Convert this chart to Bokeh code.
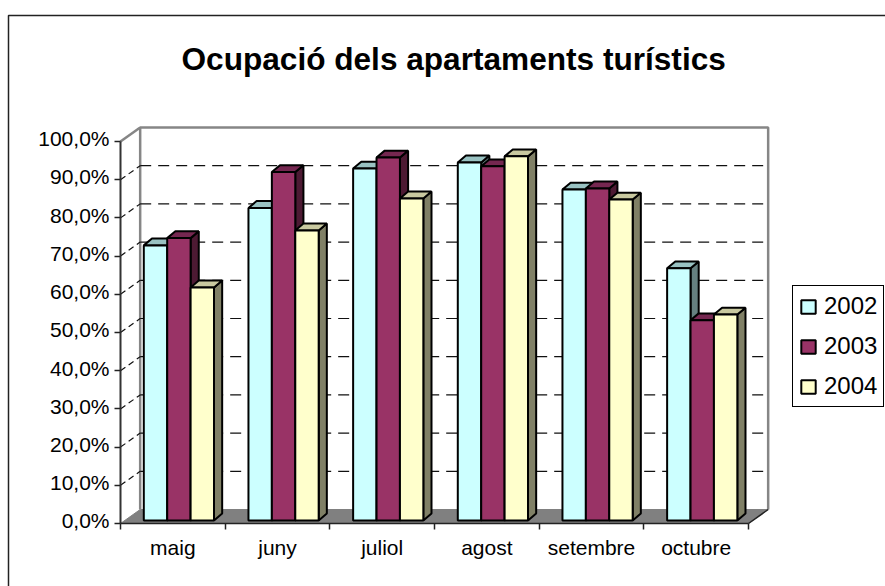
from bokeh.plotting import figure
from bokeh.embed import file_html
from bokeh.resources import INLINE
from bokeh.models import (Range1d, LinearAxis, FixedTicker, Legend, LegendItem, BoxAnnotation, Label)

title = "Ocupació dels apartaments turístics"
months = ["maig", "juny", "juliol", "agost", "setembre", "octubre"]
years = ["2002", "2003", "2004"]
s2002 = [72.0, 81.8, 92.1, 93.7, 86.6, 66.0]
s2003 = [73.9, 91.2, 95.0, 92.7, 86.9, 52.4]
s2004 = [61.0, 75.9, 84.3, 95.3, 84.0, 53.9]
series = [s2002, s2003, s2004]
y_ticks = [0, 10, 20, 30, 40, 50, 60, 70, 80, 90, 100]
y_labels = [f"{t},0%" for t in y_ticks]

front = ["#CCFFFF", "#993366", "#FFFFCC"]
top = ["#99C2C2", "#752750", "#C9C9A0"]
side = ["#668080", "#4D1A33", "#808066"]

FONT = "Liberation Sans"
WALL_DX, WALL_DY = 0.188, 3.665     # depth of the box in axis units
BAR_DX, BAR_DY = 0.078, 1.8         # depth of a bar
BAR_W = 0.2236
GROUP_C = 0.558
BASE = 0.8
LABEL_NUDGE = 0.7                   # tick labels sit a little above their ticks
n = len(months)

p = figure(width=885, height=586, output_backend="svg", toolbar_location=None,
           x_range=Range1d(-1.1465, 7.309), y_range=Range1d(-16.49, 136.9),
           x_axis_type=None, y_axis_type=None,
           min_border=0,
           outline_line_color=None, border_fill_color="white", background_fill_color="white")
p.grid.visible = False

# outer chart frame
p.add_layout(BoxAnnotation(left=8, right=900, top=571, bottom=-14,
                           left_units="screen", right_units="screen",
                           top_units="screen", bottom_units="screen",
                           fill_alpha=0, line_color="#222222", line_alpha=1, line_width=1.5, level="underlay"))

p.add_layout(Label(x=181, y=528, x_units="screen", y_units="screen", text=title, text_font=FONT,
                   text_font_size="31.6px", text_font_style="bold", text_color="black",
                   text_align="left", text_baseline="middle"))

# floor
p.patch([0, WALL_DX, n + WALL_DX, n], [0, WALL_DY, WALL_DY, 0], fill_color="#808080", line_color="#808080", line_width=1)
# back wall and left wall edges
wall = "#868686"
p.line([WALL_DX, WALL_DX, n + WALL_DX, n + WALL_DX],
       [WALL_DY, 100 + WALL_DY, 100 + WALL_DY, WALL_DY], line_color=wall, line_width=2.5)
p.line([0, WALL_DX], [100, 100 + WALL_DY], line_color=wall, line_width=2.5)
p.line([n, n + WALL_DX], [0, WALL_DY], line_color="#222222", line_width=1.5)

# dashed grid
g = y_ticks[1:-1]
p.segment([WALL_DX] * len(g), [v + WALL_DY for v in g], [n + WALL_DX] * len(g), [v + WALL_DY for v in g],
          line_color="#111111", line_width=1.2, line_dash="11 7")
p.segment([0] * len(g), g, [WALL_DX] * len(g), [v + WALL_DY for v in g],
          line_color="#111111", line_width=1.2, line_dash="6 4")

items = []
for j, vals in enumerate(series):
    x0 = [i + GROUP_C + (j - 1.5) * BAR_W for i in range(n)]
    x1 = [a + BAR_W for a in x0]
    h = [v + BASE for v in vals]
    p.patches([[b, b + BAR_DX, b + BAR_DX, b] for b in x1],
              [[BASE, BASE + BAR_DY, v + BAR_DY, v] for v in h],
              fill_color=side[j], line_color="black", line_width=2)
    p.patches([[a, b, b + BAR_DX, a + BAR_DX] for a, b in zip(x0, x1)],
              [[v, v, v + BAR_DY, v + BAR_DY] for v in h],
              fill_color=top[j], line_color="black", line_width=2)
    r = p.vbar(x=[(a + b) / 2 for a, b in zip(x0, x1)], width=BAR_W, bottom=BASE, top=h,
               fill_color=front[j], line_color="black", line_width=2)
    items.append(LegendItem(label=years[j], renderers=[r]))

# axes
ya = LinearAxis(ticker=FixedTicker(ticks=y_ticks), bounds=(0, 100), fixed_location=0,
                major_label_text_color=None,
                axis_line_color="#333333", axis_line_width=2, major_tick_line_color="#222222",
                major_tick_line_width=1.5, major_tick_in=0, major_tick_out=6, minor_tick_line_color=None,
                major_label_text_font=FONT, major_label_text_font_size="21px",
                major_label_standoff=5)
p.add_layout(ya, "left")

shifted = [t + LABEL_NUDGE for t in y_ticks]
yl = LinearAxis(ticker=FixedTicker(ticks=shifted), bounds=(0, 101), fixed_location=0,
                major_label_overrides=dict(zip(shifted, y_labels)),
                axis_line_color=None, major_tick_line_color=None, minor_tick_line_color=None,
                major_tick_in=0, major_tick_out=6,
                major_label_text_font=FONT, major_label_text_font_size="21px", major_label_text_color="black",
                major_label_standoff=5)
p.add_layout(yl, "left")

xa = LinearAxis(ticker=FixedTicker(ticks=[i + 0.5 for i in range(n)], minor_ticks=list(range(n + 1))),
                bounds=(0, n), major_label_overrides={i + 0.5: m for i, m in enumerate(months)},
                fixed_location=0,
                axis_line_color="#222222", axis_line_width=1.5, major_tick_line_color=None,
                minor_tick_line_color="#222222", minor_tick_line_width=1.5, minor_tick_in=0, minor_tick_out=6,
                major_label_text_font=FONT, major_label_text_font_size="21px", major_label_text_color="black",
                major_label_standoff=6)
p.add_layout(xa, "below")

legend = Legend(items=items, location=(792, 179), orientation="vertical",
                border_line_color="black", border_line_alpha=1, border_line_width=1.2, background_fill_color="white",
                background_fill_alpha=1, label_text_font=FONT, label_text_font_size="24px",
                label_text_color="black", glyph_width=18, glyph_height=17, label_standoff=7,
                label_height=22, spacing=12, padding=6, margin=0)
p.add_layout(legend, "center")

open("out.html", "w").write(file_html(p, INLINE))
